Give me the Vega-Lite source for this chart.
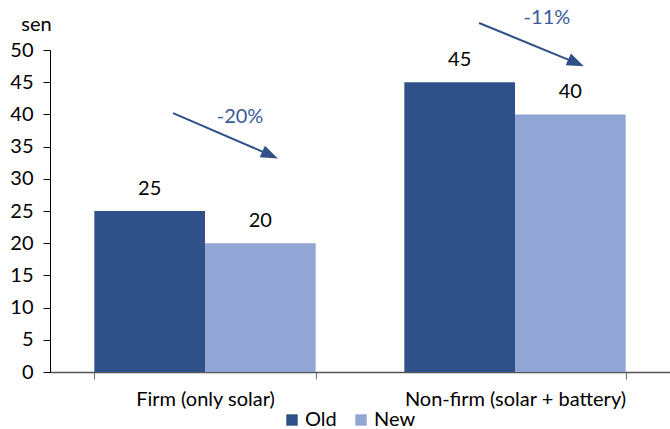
{
  "$schema": "https://vega.github.io/schema/vega-lite/v6.json",
  "width": 620,
  "height": 322,
  "autosize": {"type": "none"},
  "padding": {"left": 50, "top": 50, "right": 0, "bottom": 57},
  "background": "white",
  "config": {
    "view": {"stroke": null},
    "font": "Lato",
    "text": {"font": "Lato"},
    "axisY": {
      "grid": false,
      "labelOverlap": false,
      "labelFont": "Lato",
      "labelFontSize": 20,
      "labelColor": "#000000",
      "labelPadding": 10,
      "tickSize": 7,
      "tickColor": "#000000",
      "domainColor": "#000000",
      "titleFont": "Lato",
      "titleFontSize": 20,
      "titleFontWeight": "normal",
      "titleColor": "#000000",
      "titleAngle": 0,
      "titleAlign": "center",
      "titleBaseline": "alphabetic",
      "titleX": -14,
      "titleY": -20
    }
  },
  "datasets": {
    "bars": [
      {"category": "Firm (only solar)", "series": "Old", "value": 25},
      {"category": "Firm (only solar)", "series": "New", "value": 20},
      {"category": "Non-firm (solar + battery)", "series": "Old", "value": 45},
      {"category": "Non-firm (solar + battery)", "series": "New", "value": 40}
    ],
    "arrows": [
      {"label": "-20%", "x1": 0.397, "y1": 40.2, "hx": 0.71, "hy": 33.7, "tx": 0.613, "ty": 39.6},
      {"label": "-11%", "x1": 1.384, "y1": 54.2, "hx": 1.697, "hy": 48.0, "tx": 1.603, "ty": 55.0}
    ]
  },
  "layer": [
    {
      "data": {"name": "bars"},
      "encoding": {
        "x": {
          "field": "category",
          "type": "nominal",
          "sort": ["Firm (only solar)", "Non-firm (solar + battery)"],
          "scale": {"paddingInner": 0.286, "paddingOuter": 0.143},
          "axis": {
            "title": null,
            "labelAngle": 0,
            "labelFont": "Lato",
            "labelFontSize": 20,
            "labelColor": "#000000",
            "labelPadding": 10,
            "labelLimit": 0,
            "labelOverlap": false,
            "tickBand": "extent",
            "tickSize": 7,
            "tickColor": "#6f6f6f",
            "domainColor": "#555555",
            "domainWidth": 1.5,
            "tickWidth": 1
          }
        },
        "xOffset": {
          "field": "series",
          "type": "nominal",
          "sort": ["Old", "New"],
          "scale": {"paddingInner": 0, "paddingOuter": 0}
        },
        "y": {
          "field": "value",
          "type": "quantitative",
          "scale": {"domain": [0, 50], "nice": false},
          "axis": {"values": [0, 5, 10, 15, 20, 25, 30, 35, 40, 45, 50], "title": "sen"}
        }
      },
      "layer": [
        {
          "mark": {"type": "bar"},
          "encoding": {
            "color": {
              "field": "series",
              "type": "nominal",
              "sort": ["Old", "New"],
              "scale": {"domain": ["Old", "New"], "range": ["#2F5088", "#91A6D5"]},
              "legend": {
                "title": null,
                "orient": "none",
                "legendX": 232,
                "legendY": 360,
                "direction": "horizontal",
                "symbolType": "square",
                "symbolSize": 130,
                "symbolStrokeWidth": 0,
                "labelFont": "Lato",
                "labelFontSize": 20,
                "labelColor": "#000000",
                "labelOffset": 3,
                "columnPadding": 14,
                "padding": 0
              }
            }
          }
        },
        {
          "mark": {"type": "text", "baseline": "alphabetic", "dy": -16, "fontSize": 20, "color": "#000000", "font": "Lato"},
          "encoding": {"text": {"field": "value", "type": "quantitative"}}
        }
      ]
    },
    {
      "data": {"name": "arrows"},
      "layer": [
        {
          "mark": {"type": "rule", "color": "#2F5088", "strokeWidth": 2},
          "encoding": {
            "x": {"field": "x1", "type": "quantitative", "scale": {"domain": [0, 2], "nice": false}, "axis": null},
            "y": {"field": "y1", "type": "quantitative", "scale": {"domain": [0, 50], "nice": false}, "axis": {"values": [0, 5, 10, 15, 20, 25, 30, 35, 40, 45, 50], "title": "sen"}},
            "x2": {"field": "hx"},
            "y2": {"field": "hy"}
          }
        },
        {
          "mark": {"type": "point", "shape": "M-1,-0.75L1,0L-1,0.75Z", "filled": true, "color": "#2F5088", "size": 289, "angle": 24, "opacity": 1},
          "encoding": {
            "x": {"field": "hx", "type": "quantitative", "scale": {"domain": [0, 2], "nice": false}, "axis": null},
            "y": {"field": "hy", "type": "quantitative", "scale": {"domain": [0, 50], "nice": false}, "axis": {"values": [0, 5, 10, 15, 20, 25, 30, 35, 40, 45, 50], "title": "sen"}}
          }
        },
        {
          "mark": {"type": "text", "fontSize": 20, "color": "#3A5A9A", "font": "Lato", "baseline": "middle", "align": "center"},
          "encoding": {
            "x": {"field": "tx", "type": "quantitative", "scale": {"domain": [0, 2], "nice": false}, "axis": null},
            "y": {"field": "ty", "type": "quantitative", "scale": {"domain": [0, 50], "nice": false}, "axis": {"values": [0, 5, 10, 15, 20, 25, 30, 35, 40, 45, 50], "title": "sen"}},
            "text": {"field": "label"}
          }
        }
      ]
    }
  ],
  "resolve": {"scale": {"x": "independent"}, "axis": {"x": "independent"}}
}
